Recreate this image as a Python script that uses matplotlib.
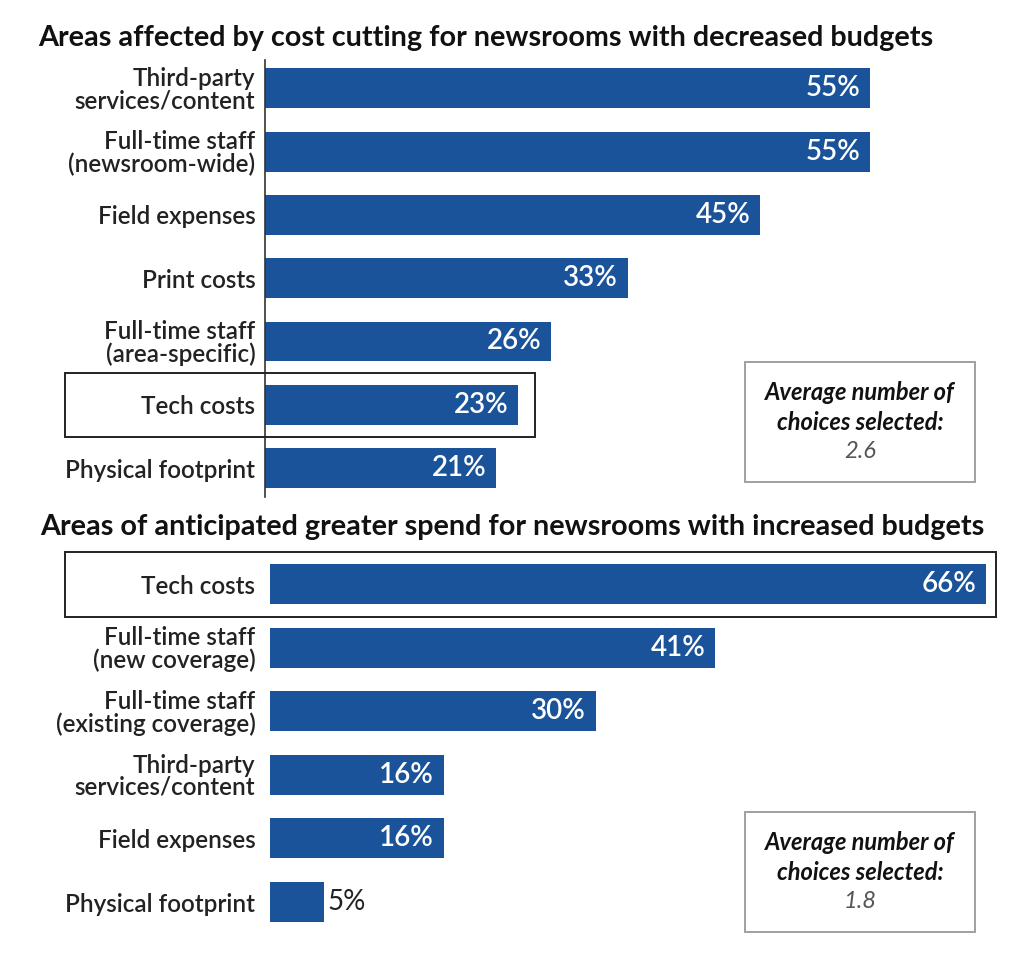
import matplotlib
matplotlib.use("Agg")
import matplotlib.pyplot as plt
from matplotlib.patches import Rectangle

plt.rcParams['font.family'] = ['Lato', 'DejaVu Sans']

title1 = "Areas affected by cost cutting for newsrooms with decreased budgets"
cats1 = ["Third-party\nservices/content", "Full-time staff\n(newsroom-wide)", "Field expenses",
         "Print costs", "Full-time staff\n(area-specific)", "Tech costs", "Physical footprint"]
vals1 = [55, 55, 45, 33, 26, 23, 21]
avg1 = "2.6"

title2 = "Areas of anticipated greater spend for newsrooms with increased budgets"
cats2 = ["Tech costs", "Full-time staff\n(new coverage)", "Full-time staff\n(existing coverage)",
         "Third-party\nservices/content", "Field expenses", "Physical footprint"]
vals2 = [66, 41, 30, 16, 16, 5]
avg2 = "1.8"

BLUE = "#1a5399"
W, H = 1024, 968
fig = plt.figure(figsize=(W / 100, H / 100), dpi=100)
fig.patch.set_facecolor("white")


def fx(px):
    return px / W


def fy(py):
    return 1 - py / H


def panel(rect, cats, vals, scale_max, spine, pad):
    ax = fig.add_axes(rect)
    y = list(range(len(cats)))
    ax.barh(y, vals, height=0.63, color=BLUE, edgecolor="none")
    ax.set_ylim(len(cats) - 0.5, -0.5)
    ax.set_xlim(0, scale_max)
    ax.set_xticks([])
    ax.set_yticks(y)
    ax.set_yticklabels(cats, fontsize=17.5, fontweight="semibold", color="#222222",
                       linespacing=0.95)
    ax.tick_params(axis="y", length=0, pad=pad)
    for s in ["top", "right", "bottom"]:
        ax.spines[s].set_visible(False)
    if spine:
        ax.spines["left"].set_color("#333333")
        ax.spines["left"].set_linewidth(1.2)
        ax.spines["left"].set_bounds(len(cats) - 0.55, -0.45)
    else:
        ax.spines["left"].set_visible(False)
    ax.patch.set_alpha(0)
    for yi, v in zip(y, vals):
        if v >= 10:
            ax.text(v - 0.9, yi, f"{v}%", ha="right", va="center", color="white",
                    fontsize=20, fontweight="semibold")
        else:
            ax.text(v + 0.3, yi, f"{v}%", ha="left", va="center", color="#222222",
                    fontsize=20, fontweight="normal")
    return ax


# top panel
panel([fx(265), fy(499.7), fx(735), 443 / H], cats1, vals1, 735 / 11.0, True, 7)
# bottom panel
panel([fx(270), fy(933.8), fx(730), 381.6 / H], cats2, vals2, 730 / 10.85, False, 10.5)

# titles
fig.text(fx(38), fy(38), title1, ha="left", va="center", fontsize=20.7,
         fontweight="bold", color="#111111")
fig.text(fx(40), fy(527), title2, ha="left", va="center", fontsize=20.7,
         fontweight="bold", color="#111111")


def box(x0, y0, x1, y1, color, lw):
    fig.patches.append(Rectangle((fx(x0), fy(y1)), fx(x1) - fx(x0), fy(y0) - fy(y1),
                                 transform=fig.transFigure, fill=False,
                                 edgecolor=color, linewidth=lw, zorder=5))


# highlight boxes
box(65, 373, 535, 437, "#222222", 1.4)
box(65, 552, 996, 617, "#222222", 1.4)

# average boxes
for (y0, avg) in [(362, avg1), (812, avg2)]:
    box(745, y0, 975, y0 + 120, "#a0a0a0", 1.4)
    fig.text(fx(860), fy(y0 + 30), "Average number of",
             ha="center", va="center", fontsize=17, fontweight="bold",
             fontstyle="italic", color="#111111")
    fig.text(fx(860), fy(y0 + 61), "choices selected:",
             ha="center", va="center", fontsize=17, fontweight="bold",
             fontstyle="italic", color="#111111")
    fig.text(fx(860), fy(y0 + 90), avg, ha="center", va="center", fontsize=17,
             fontstyle="italic", color="#555555")

fig.savefig("out.png", dpi=100, facecolor="white")
